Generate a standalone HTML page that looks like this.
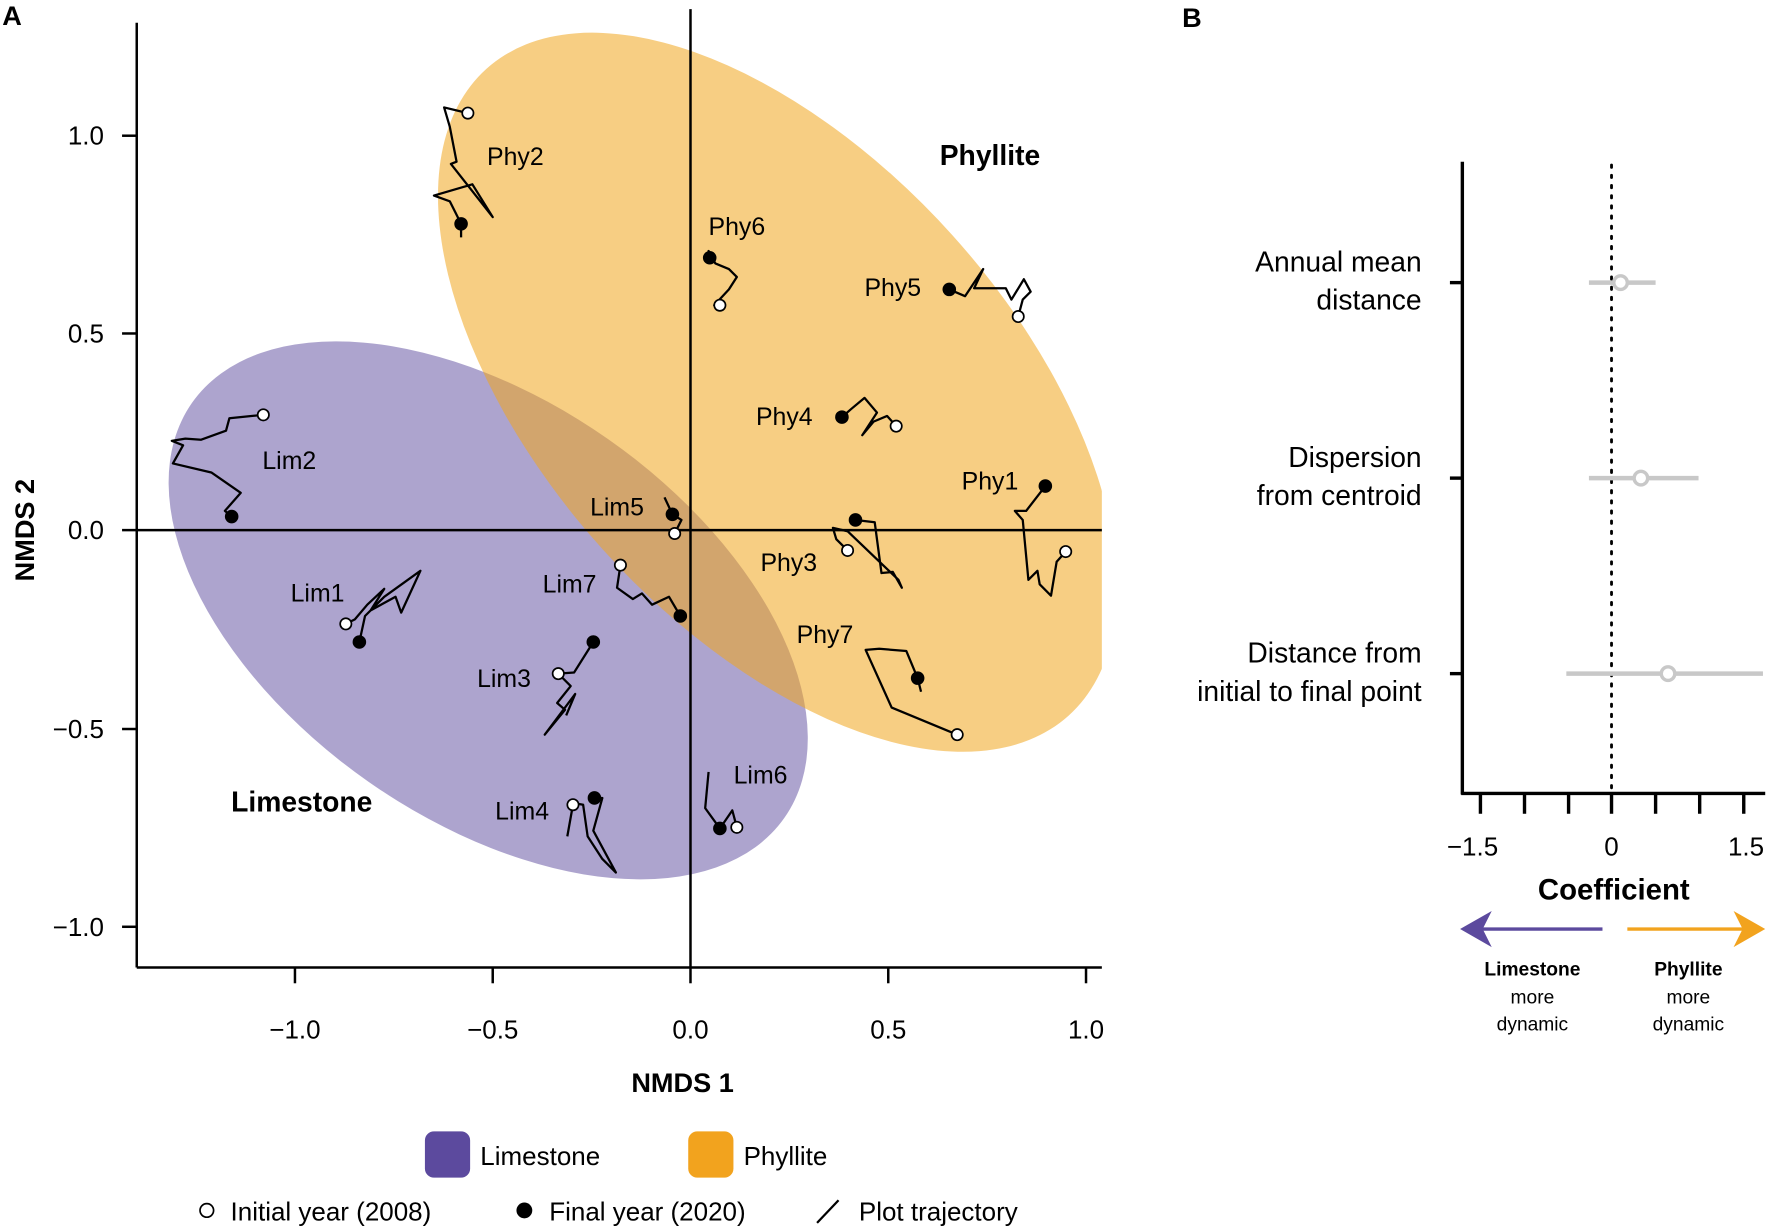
<!DOCTYPE html>
<html><head><meta charset="utf-8"><style>
html,body{margin:0;padding:0;background:#fff}
svg{display:block}
text{font-family:"Liberation Sans",sans-serif;fill:#000}
</style></head><body>
<svg width="1772" height="1232" viewBox="0 0 1568 1090" xmlns="http://www.w3.org/2000/svg">
<defs><clipPath id="c"><rect x="121" y="0" width="854" height="856"/></clipPath></defs>
<rect width="1568" height="1090" fill="#fff"/>
<g clip-path="url(#c)">
<ellipse cx="432" cy="540" rx="320" ry="185" transform="rotate(35 432 540)" fill="rgb(92,74,158)" fill-opacity="0.5"/>
<ellipse cx="688" cy="347" rx="385" ry="208" transform="rotate(48 688 347)" fill="rgb(240,165,30)" fill-opacity="0.55"/>
</g>
<g stroke="#000" fill="none" stroke-width="2.2">
<line x1="121" y1="20" x2="121" y2="856"/>
<line x1="121" y1="856" x2="975" y2="856"/>
<line x1="121" y1="469" x2="975" y2="469"/>
<line x1="611" y1="8" x2="611" y2="856"/>
<line x1="108" y1="120" x2="121" y2="120"/><line x1="108" y1="295" x2="121" y2="295"/><line x1="108" y1="469" x2="121" y2="469"/><line x1="108" y1="645" x2="121" y2="645"/><line x1="108" y1="820" x2="121" y2="820"/>
<line x1="261" y1="856" x2="261" y2="870"/><line x1="436" y1="856" x2="436" y2="870"/><line x1="611" y1="856" x2="611" y2="870"/><line x1="786" y1="856" x2="786" y2="870"/><line x1="961" y1="856" x2="961" y2="870"/>
</g>
<g font-size="23" text-anchor="end">
<text x="92" y="128">1.0</text><text x="92" y="303">0.5</text><text x="92" y="477">0.0</text><text x="92" y="653">−0.5</text><text x="92" y="828">−1.0</text>
</g>
<g font-size="23" text-anchor="middle">
<text x="261" y="919">−1.0</text><text x="436" y="919">−0.5</text><text x="611" y="919">0.0</text><text x="786" y="919">0.5</text><text x="961" y="919">1.0</text>
</g>
<text x="604" y="966" font-size="24" font-weight="bold" text-anchor="middle">NMDS 1</text>
<text transform="translate(30 469) rotate(-90)" font-size="24" font-weight="bold" text-anchor="middle">NMDS 2</text>
<text x="2" y="22" font-size="24" font-weight="bold">A</text>
<text x="1046" y="24" font-size="24" font-weight="bold">B</text>
<g stroke="#000" fill="none" stroke-width="2" stroke-linejoin="round">
<polyline points="414,100 393,95 398,112 404,143 399,145 436,192 418,163 384,173 398,178 403,188 408,198 408,210"/>
<polyline points="628,228 627,222 633,233 645,238 652,245 645,256 632,270 637,270"/>
<polyline points="840,256 854,262 870,238 862,255 890,255 895,265 906,247 912,258 905,265 901,280"/>
<polyline points="745,369 753,362 765,352 776,365 763,385 773,373 785,368 793,377"/>
<polyline points="925,430 908,452 898,452 905,460 910,513 918,505 920,517 930,527 935,497 943,488"/>
<polyline points="757,460 774,462 780,507 790,506 798,520 795,513 750,470 737,467 740,477 750,487"/>
<polyline points="815,612 812,600 802,576 778,574 766,575 789,626 847,650"/>
<polyline points="233,367 203,370 200,381 178,389 164,388 152,390 162,394 153,410 187,418 213,436 199,452 205,457"/>
<polyline points="588,440 595,455 603,460 598,470 597,472"/>
<polyline points="549,500 546,520 560,530 568,525 577,535 592,528 602,545"/>
<polyline points="306,552 314,548 325,535 340,521 328,540 350,528 355,542 372,505 340,528 323,545 318,568"/>
<polyline points="525,568 508,595 494,596 505,607 493,622 500,628 482,650 509,614 501,633"/>
<polyline points="526,706 533,706 525,735 545,772 533,760 520,740 516,712 505,710 507,712 502,740"/>
<polyline points="627,683 624,715 637,733 648,717 652,732"/>
</g>
<g fill="#000">
<circle cx="408" cy="198" r="6"/><circle cx="628" cy="228" r="6"/><circle cx="840" cy="256" r="6"/><circle cx="745" cy="369" r="6"/><circle cx="925" cy="430" r="6"/><circle cx="757" cy="460" r="6"/><circle cx="812" cy="600" r="6"/><circle cx="205" cy="457" r="6"/><circle cx="595" cy="455" r="6"/><circle cx="602" cy="545" r="6"/><circle cx="318" cy="568" r="6"/><circle cx="525" cy="568" r="6"/><circle cx="526" cy="706" r="6"/><circle cx="637" cy="733" r="6"/>
</g>
<g fill="#fff" stroke="#000" stroke-width="1.5">
<circle cx="414" cy="100" r="5"/><circle cx="637" cy="270" r="5"/><circle cx="901" cy="280" r="5"/><circle cx="793" cy="377" r="5"/><circle cx="943" cy="488" r="5"/><circle cx="750" cy="487" r="5"/><circle cx="847" cy="650" r="5"/><circle cx="233" cy="367" r="5"/><circle cx="597" cy="472" r="5"/><circle cx="549" cy="500" r="5"/><circle cx="306" cy="552" r="5"/><circle cx="494" cy="596" r="5"/><circle cx="507" cy="712" r="5"/><circle cx="652" cy="732" r="5"/>
</g>
<g font-size="22" text-anchor="middle">
<text x="456" y="146">Phy2</text><text x="652" y="208">Phy6</text><text x="790" y="262">Phy5</text><text x="694" y="376">Phy4</text><text x="876" y="433">Phy1</text><text x="698" y="505">Phy3</text><text x="730" y="569">Phy7</text>
<text x="256" y="415">Lim2</text><text x="546" y="456">Lim5</text><text x="504" y="524">Lim7</text><text x="281" y="532">Lim1</text><text x="446" y="608">Lim3</text><text x="462" y="725">Lim4</text><text x="673" y="693">Lim6</text>
</g>
<text x="876" y="146" font-size="25" font-weight="bold" text-anchor="middle">Phyllite</text>
<text x="267" y="718" font-size="25" font-weight="bold" text-anchor="middle">Limestone</text>
<rect x="376" y="1001" width="40" height="41" rx="8" fill="#5c4a9e"/>
<text x="425" y="1031" font-size="23">Limestone</text>
<rect x="609" y="1001" width="40" height="41" rx="8" fill="#f2a31e"/>
<text x="658" y="1031" font-size="23">Phyllite</text>
<circle cx="183" cy="1071" r="6" fill="#fff" stroke="#000" stroke-width="1.5"/>
<text x="204" y="1080" font-size="23">Initial year (2008)</text>
<circle cx="464" cy="1071" r="7" fill="#000"/>
<text x="486" y="1080" font-size="23">Final year (2020)</text>
<line x1="723" y1="1082" x2="742" y2="1062" stroke="#000" stroke-width="2"/>
<text x="760" y="1080" font-size="23">Plot trajectory</text>
<g stroke="#000" stroke-width="3" fill="none">
<line x1="1294" y1="143" x2="1294" y2="703"/>
<line x1="1293" y1="702" x2="1562" y2="702"/>
<line x1="1283" y1="250" x2="1294" y2="250"/><line x1="1283" y1="423" x2="1294" y2="423"/><line x1="1283" y1="596" x2="1294" y2="596"/>
<line x1="1310" y1="702" x2="1310" y2="720"/><line x1="1349" y1="702" x2="1349" y2="720"/><line x1="1388" y1="702" x2="1388" y2="720"/><line x1="1426" y1="702" x2="1426" y2="720"/><line x1="1465" y1="702" x2="1465" y2="720"/><line x1="1504" y1="702" x2="1504" y2="720"/><line x1="1543" y1="702" x2="1543" y2="720"/>
</g>
<line x1="1426" y1="146" x2="1426" y2="700" stroke="#000" stroke-width="2.5" stroke-dasharray="2,7" stroke-linecap="round"/>
<g stroke="#c8c8c8" stroke-width="4">
<line x1="1406" y1="250" x2="1465" y2="250"/><line x1="1406" y1="423" x2="1503" y2="423"/><line x1="1386" y1="596" x2="1560" y2="596"/>
</g>
<g fill="#fff" stroke="#c8c8c8" stroke-width="3">
<circle cx="1434" cy="250" r="6"/><circle cx="1452" cy="423" r="6"/><circle cx="1476" cy="596" r="6"/>
</g>
<g font-size="25" text-anchor="end">
<text x="1258" y="240">Annual mean</text><text x="1258" y="274">distance</text>
<text x="1258" y="413">Dispersion</text><text x="1258" y="447">from centroid</text>
<text x="1258" y="586">Distance from</text><text x="1258" y="620">initial to final point</text>
</g>
<g font-size="23" text-anchor="middle">
<text x="1303" y="757">−1.5</text><text x="1426" y="757">0</text><text x="1545" y="757">1.5</text>
</g>
<text x="1428" y="796" font-size="26" font-weight="bold" text-anchor="middle">Coefficient</text>
<line x1="1418" y1="822" x2="1310" y2="822" stroke="#5c4a9e" stroke-width="3"/>
<polygon points="1292,822 1320,806 1312,822 1320,838" fill="#5c4a9e"/>
<line x1="1440" y1="822" x2="1545" y2="822" stroke="#f2a31e" stroke-width="3"/>
<polygon points="1562,822 1534,806 1542,822 1534,838" fill="#f2a31e"/>
<g font-size="17" text-anchor="middle">
<text x="1356" y="863" font-weight="bold">Limestone</text><text x="1356" y="888">more</text><text x="1356" y="912">dynamic</text>
<text x="1494" y="863" font-weight="bold">Phyllite</text><text x="1494" y="888">more</text><text x="1494" y="912">dynamic</text>
</g>
</svg>
</body></html>
